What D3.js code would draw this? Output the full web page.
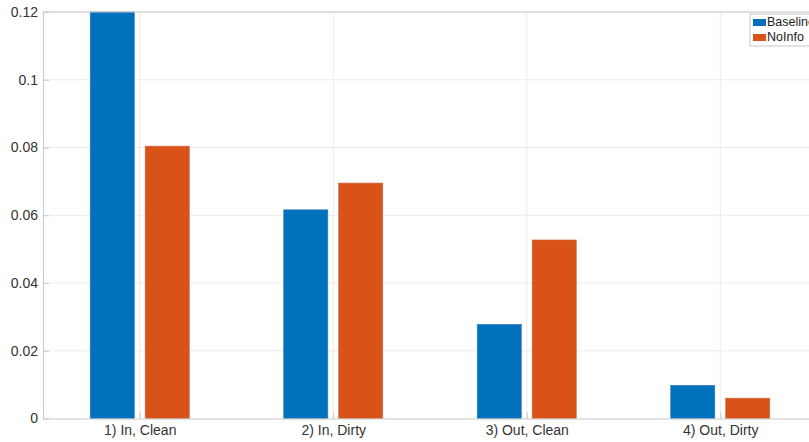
<!DOCTYPE html>
<html><head><meta charset="utf-8">
<script src="https://cdn.jsdelivr.net/npm/d3@7"></script>
<style>body{margin:0;background:#fff;}svg{display:block;font-family:"Liberation Sans",Arial,Helvetica,sans-serif;}</style>
</head><body><svg id="c" width="809" height="442"></svg>
<script>
const categories = ["1) In, Clean", "2) In, Dirty", "3) Out, Clean", "4) Out, Dirty"];
const seriesNames = ["Baseline", "NoInfo"];
const baseline = [0.1200, 0.0616, 0.0278, 0.0098];
const noInfo = [0.0804, 0.0695, 0.0527, 0.0060];
const yTicks = [0, 0.02, 0.04, 0.06, 0.08, 0.1, 0.12];
const yTickLabels = ["0", "0.02", "0.04", "0.06", "0.08", "0.1", "0.12"];
const colors = ["#0072BD", "#D95319"];

const svg = d3.select("#c");
const L = 43, R = 817, T = 12, B = 418.5;
const x = d3.scaleLinear().domain([0.5, categories.length + 0.5]).range([L, R]);
const y = d3.scaleLinear().domain([0, 0.12]).range([B, T]);
const unit = x(2) - x(1);
const barW = 0.228 * unit, off = 0.142 * unit;

// grid
svg.append("g").selectAll("line").data(yTicks.slice(1)).join("line")
  .attr("x1", L).attr("x2", R).attr("y1", d => y(d)).attr("y2", d => y(d))
  .attr("stroke", "#ececec").attr("stroke-width", 1);
svg.append("g").selectAll("line").data(categories).join("line")
  .attr("x1", (d,i) => x(i+1)).attr("x2", (d,i) => x(i+1)).attr("y1", T).attr("y2", B)
  .attr("stroke", "#ececec").attr("stroke-width", 1);

// bars
const series = [baseline, noInfo];
series.forEach((vals, s) => {
  svg.append("g").selectAll("rect").data(vals).join("rect")
    .attr("x", (d,i) => x(i+1) + (s === 0 ? -off : off) - barW/2)
    .attr("width", barW)
    .attr("y", d => y(Math.min(d, 0.12)))
    .attr("height", d => B - y(Math.min(d, 0.12)))
    .attr("fill", colors[s])
    .attr("stroke", s === 0 ? "#3a78b0" : "#c86a45").attr("stroke-width", 0.6);
});

// axes
const yAxis = d3.axisLeft(y).tickValues(yTicks).tickFormat((d,i) => yTickLabels[i]).tickSizeInner(-6).tickSizeOuter(0).tickPadding(5);
const gy = svg.append("g").attr("transform", `translate(${L},0)`).call(yAxis);
gy.select(".domain").attr("stroke", "#c8c8c8");
gy.selectAll(".tick line").attr("stroke", "#c8c8c8");
gy.selectAll("text").attr("fill", "#333").attr("font-size", 14);

const xAxis = d3.axisBottom(x).tickValues([1,2,3,4]).tickFormat((d) => categories[d-1]).tickSizeInner(-6).tickSizeOuter(0).tickPadding(7);
const gx = svg.append("g").attr("transform", `translate(0,${B})`).call(xAxis);
gx.select(".domain").attr("stroke", "#c8c8c8");
gx.selectAll(".tick line").attr("stroke", "#c8c8c8");
gx.selectAll("text").attr("fill", "#333").attr("font-size", 14);

// top border
svg.append("line").attr("x1", L).attr("x2", R).attr("y1", T).attr("y2", T).attr("stroke", "#c8c8c8");

// legend
const lg = svg.append("g").attr("transform", "translate(750,14)");
lg.append("rect").attr("x", 0).attr("y", 0).attr("width", 80).attr("height", 32)
  .attr("fill", "#fff").attr("stroke", "#c8c8c8");
seriesNames.forEach((n, i) => {
  lg.append("rect").attr("x", 3).attr("y", 5 + i*15).attr("width", 13).attr("height", 7).attr("fill", colors[i]);
  lg.append("text").attr("x", 17).attr("y", 12 + i*15).attr("font-size", 12.5).attr("fill", "#222").text(n);
});
</script></body></html>
